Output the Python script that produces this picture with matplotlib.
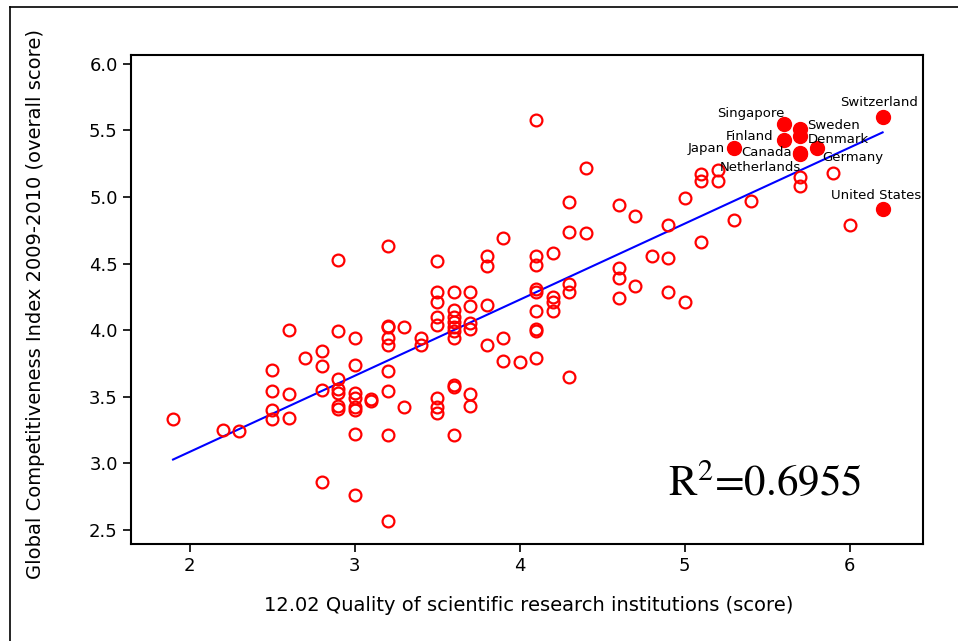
import matplotlib
matplotlib.use("Agg")
import matplotlib.pyplot as plt
from matplotlib.lines import Line2D
import numpy as np

# open circles: research quality score vs GCI score
quality = [
    1.9, 2.2, 2.3,
    2.5, 2.5, 2.5, 2.5,
    2.6, 2.6, 2.6,
    2.7,
    2.8, 2.8, 2.8, 2.8,
    2.9, 2.9, 2.9, 2.9, 2.9, 2.9, 2.9,
    3.0, 3.0, 3.0, 3.0, 3.0, 3.0, 3.0, 3.0,
    3.1, 3.1,
    3.2, 3.2, 3.2, 3.2, 3.2, 3.2, 3.2, 3.2, 3.2,
    3.3, 3.3,
    3.4, 3.4,
    3.5, 3.5, 3.5, 3.5, 3.5, 3.5, 3.5, 3.5,
    3.6, 3.6, 3.6, 3.6, 3.6, 3.6, 3.6, 3.6, 3.6, 3.6,
    3.7, 3.7, 3.7, 3.7, 3.7, 3.7,
    3.8, 3.8, 3.8, 3.8,
    3.9, 3.9, 3.9,
    4.0,
    4.1, 4.1, 4.1, 4.1, 4.1, 4.1, 4.1, 4.1, 4.1,
    4.2, 4.2, 4.2, 4.2,
    4.3, 4.3, 4.3, 4.3, 4.3,
    4.4, 4.4,
    4.6, 4.6, 4.6, 4.6,
    4.7, 4.7,
    4.8,
    4.9, 4.9, 4.9,
    5.0, 5.0,
    5.1, 5.1, 5.1,
    5.2, 5.2,
    5.3,
    5.4,
    5.7, 5.7,
    5.9,
    6.0,
]
gci = [
    3.33, 3.25, 3.24,
    3.70, 3.54, 3.40, 3.33,
    4.00, 3.52, 3.34,
    3.79,
    3.84, 3.73, 3.55, 2.86,
    4.53, 3.99, 3.63, 3.56, 3.53, 3.43, 3.41,
    3.94, 3.74, 3.53, 3.49, 3.42, 3.40, 3.22, 2.76,
    3.48, 3.47,
    4.63, 4.03, 4.02, 3.94, 3.89, 3.69, 3.54, 3.21, 2.57,
    4.02, 3.42,
    3.94, 3.89,
    4.52, 4.29, 4.21, 4.10, 4.04, 3.49, 3.42, 3.38,
    4.29, 4.15, 4.10, 4.06, 4.02, 3.99, 3.94, 3.59, 3.57, 3.21,
    4.29, 4.18, 4.05, 4.01, 3.52, 3.43,
    4.56, 4.48, 4.19, 3.89,
    4.69, 3.94, 3.77,
    3.76,
    5.58, 4.56, 4.49, 4.31, 4.29, 4.14, 4.01, 3.99, 3.79,
    4.58, 4.25, 4.21, 4.14,
    4.96, 4.74, 4.35, 4.29, 3.65,
    5.22, 4.73,
    4.94, 4.47, 4.39, 4.24,
    4.86, 4.33,
    4.56,
    4.79, 4.54, 4.29,
    4.99, 4.21,
    5.17, 5.12, 4.66,
    5.20, 5.12,
    4.83,
    4.97,
    5.15, 5.08,
    5.18,
    4.79,
]

# labelled countries (filled dots)
countries = ["Switzerland", "Singapore", "Sweden", "Denmark", "Finland",
             "Japan", "Germany", "Canada", "Netherlands", "United States"]
country_quality = [6.2, 5.6, 5.7, 5.7, 5.6, 5.3, 5.8, 5.7, 5.7, 6.2]
country_gci = [5.60, 5.55, 5.51, 5.46, 5.43, 5.37, 5.37, 5.33, 5.32, 4.91]

# label offsets in pixels (dx, dy) relative to each dot
label_offsets = {
    "Switzerland": (-4, 14),
    "Singapore": (-33, 10),
    "Sweden": (33, 3),
    "Denmark": (38, -4),
    "Finland": (-34, 3),
    "Japan": (-28, -1),
    "Germany": (36, -10),
    "Canada": (-34, 0),
    "Netherlands": (-40, -13),
    "United States": (-6, 13),
}

# regression line
fit_slope = 0.571
fit_intercept = 1.944
r_squared = "0.6955"

plt.rcParams["mathtext.fontset"] = "stix"

fig = plt.figure(figsize=(9.58, 6.41), dpi=100)
ax = fig.add_axes([0.1367, 0.1513, 0.8268, 0.7629])

ax.plot(quality, gci, linestyle="none", marker="o", markersize=8.5,
        markerfacecolor="none", markeredgecolor="#ff0000", markeredgewidth=1.6,
        zorder=3)

all_x = np.array(quality + country_quality)
xs = np.array([all_x.min(), all_x.max()])
ax.plot(xs, fit_intercept + fit_slope * xs, color="#0000ff", lw=1.5, zorder=2)

ax.plot(country_quality, country_gci, linestyle="none", marker="o",
        markersize=10, color="#ff0000", zorder=4)

for name, cx, cy in zip(countries, country_quality, country_gci):
    dx, dy = label_offsets[name]
    ax.annotate(name, (cx, cy), xytext=(dx, dy), textcoords="offset pixels",
                ha="center", va="center", fontsize=9.5,
                color="black", zorder=5)

ax.text(0.678, 0.100, "R$^{2}$=" + r_squared, family="STIXGeneral",
        transform=ax.transAxes, ha="left", va="baseline", fontsize=31)

ax.set_xlim(1.645, 6.445)
ax.set_ylim(2.395, 6.065)
ax.set_xticks([2, 3, 4, 5, 6])
ax.set_yticks([2.5, 3.0, 3.5, 4.0, 4.5, 5.0, 5.5, 6.0])
ax.set_yticklabels([f"{v:.1f}" for v in [2.5, 3.0, 3.5, 4.0, 4.5, 5.0, 5.5, 6.0]])
ax.tick_params(direction="out", length=5.5, width=1.2, labelsize=13, pad=4)

for spine in ax.spines.values():
    spine.set_linewidth(1.5)

ax.set_xlabel("12.02 Quality of scientific research institutions (score)",
              fontsize=14)
ax.set_ylabel("Global Competitiveness Index 2009-2010 (overall score)",
              fontsize=14)
ax.xaxis.set_label_coords(0.5025, -0.106)
ax.yaxis.set_label_coords(-0.108, 0.491)

# outer frame (top and left edges)
fig.add_artist(Line2D([10 / 958, 1.0], [1 - 7 / 641, 1 - 7 / 641],
                      color="black", lw=1.2, transform=fig.transFigure))
fig.add_artist(Line2D([10 / 958, 10 / 958], [0.0, 1 - 7 / 641],
                      color="black", lw=1.2, transform=fig.transFigure))

fig.savefig("out.png", dpi=100)
